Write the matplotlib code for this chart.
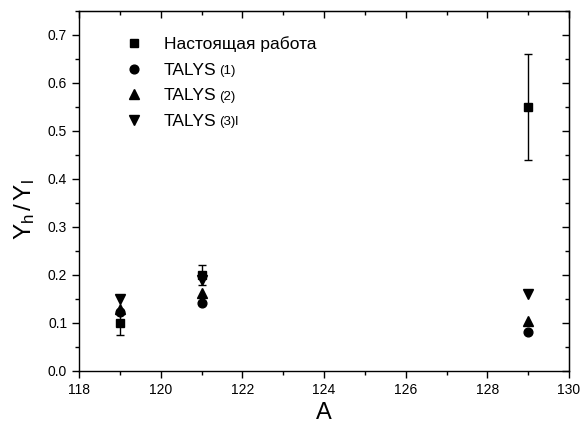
import matplotlib
matplotlib.use("Agg")
import matplotlib.pyplot as plt
from matplotlib.ticker import MultipleLocator

plt.rcParams['font.family'] = ['Liberation Sans', 'DejaVu Sans']
plt.rcParams['mathtext.fontset'] = 'custom'
plt.rcParams['mathtext.rm'] = 'Liberation Sans'
plt.rcParams['mathtext.it'] = 'Liberation Sans'

A = [119, 121, 129]
exp_vals = [0.10, 0.20, 0.55]
exp_err = [0.025, 0.02, 0.11]
talys1 = [0.123, 0.142, 0.081]
talys2 = [0.13, 0.163, 0.104]
talys3 = [0.15, 0.19, 0.16]

labels_main = ["Настоящая работа", "TALYS", "TALYS", "TALYS"]
labels_sub = ["", "(1)", "(2)", "(3)l"]

fig = plt.figure(figsize=(5.82, 4.32), dpi=100)
ax = fig.add_axes([79/582, 1-371/432, (569-79)/582, (371-11)/432])

ms = 6.3
h0 = ax.errorbar(A, exp_vals, yerr=exp_err, fmt='s', color='black', ms=ms,
                 capsize=3.2, elinewidth=1.0, capthick=1.0, zorder=3)
h1, = ax.plot(A, talys1, 'o', color='black', ms=ms, zorder=4)
h2, = ax.plot(A, talys2, '^', color='black', ms=ms+0.5, zorder=4)
h3, = ax.plot(A, talys3, 'v', color='black', ms=ms+0.5, zorder=4)

ax.set_xlim(118, 130)
ax.set_ylim(0, 0.75)
ax.xaxis.set_major_locator(MultipleLocator(2))
ax.xaxis.set_minor_locator(MultipleLocator(1))
ax.yaxis.set_major_locator(MultipleLocator(0.1))
ax.yaxis.set_minor_locator(MultipleLocator(0.05))
ax.xaxis.set_major_formatter(plt.FuncFormatter(lambda v, p: f"{v:.0f}"))
ax.yaxis.set_major_formatter(plt.FuncFormatter(lambda v, p: f"{v:.1f}"))

for s in ax.spines.values():
    s.set_linewidth(1.0)
ax.tick_params(which='major', direction='out', length=5, width=1.0, labelsize=10,
               top=False, right=False)
ax.tick_params(which='minor', direction='out', length=3, width=1.0, top=False, right=False)

axt = ax.secondary_xaxis('top')
axt.xaxis.set_major_locator(MultipleLocator(2))
axt.xaxis.set_minor_locator(MultipleLocator(1))
axt.tick_params(which='major', direction='in', length=5, width=1.0, labeltop=False)
axt.tick_params(which='minor', direction='in', length=3, width=1.0)
axr = ax.secondary_yaxis('right')
axr.yaxis.set_major_locator(MultipleLocator(0.1))
axr.yaxis.set_minor_locator(MultipleLocator(0.05))
axr.tick_params(which='major', direction='in', length=5, width=1.0, labelright=False)
axr.tick_params(which='minor', direction='in', length=3, width=1.0)

ax.set_xlabel("A", fontsize=17)
ax.xaxis.set_label_coords(0.5, -0.085)
ax.set_ylabel(r"$\mathregular{Y_h\,/\,Y_l}$", fontsize=17.5)
ax.yaxis.set_label_coords(-0.086, 0.45)

leg = ax.legend([h0[0], h1, h2, h3], labels_main, loc='upper left',
                bbox_to_anchor=(0.095, 0.93), frameon=False, fontsize=12.5,
                handlelength=1.0, handletextpad=1.2, labelspacing=0.6,
                borderaxespad=0, borderpad=0)
fig.canvas.draw()
r = fig.canvas.get_renderer()
for txt, sub in zip(leg.get_texts(), labels_sub):
    if sub:
        bb = txt.get_window_extent(r)
        fig.text(bb.x1 + 3, bb.y0 + 3.5, sub, fontsize=9.5, transform=None,
                 ha='left', va='baseline')

fig.savefig("out.png", dpi=100)
